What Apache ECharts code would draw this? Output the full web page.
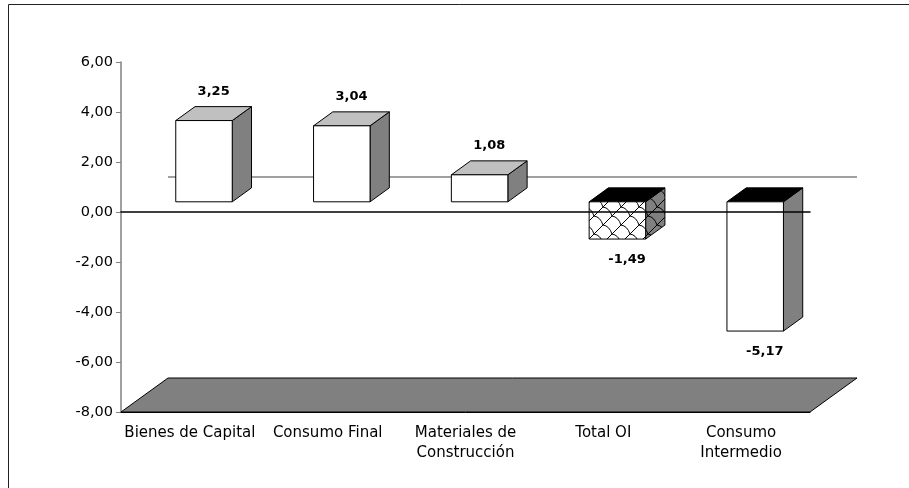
<!DOCTYPE html>
<html>
<head>
<meta charset="utf-8">
<script src="https://cdn.jsdelivr.net/npm/echarts@6/dist/echarts.min.js"></script>
<style>
  html, body { margin: 0; padding: 0; background: #fff; }
  #chart { width: 909px; height: 488px; }
</style>
</head>
<body>
<div id="chart"></div>
<script>
// datos
const categories = ["Bienes de Capital", "Consumo Final", "Materiales de\nConstrucción", "Total OI", "Consumo\nIntermedio"];
const values = [3.25, 3.04, 1.08, -1.49, -5.17];
const yTicks = { min: -8, max: 6, step: 2 };
const hatchedCategory = "Total OI";

const FONT = "DejaVu Sans";
// profundidad del efecto 3D (px)
const depthX = 47, depthY = -34;
const nearFrac = 0.3, farFrac = 0.71, barFrac = 0.41;

function fmt(v) {
  return v.toFixed(2).replace(".", ",");
}

// trama tipo "escamas" para la barra "Total OI"
function makeHatch(bg) {
  const s = 18;
  const c = document.createElement("canvas");
  c.width = s; c.height = s;
  const g = c.getContext("2d");
  g.fillStyle = bg;
  g.fillRect(0, 0, s, s);
  g.strokeStyle = "#000";
  g.lineWidth = 1;
  g.beginPath();
  g.moveTo(0, s); g.lineTo(s, 0);
  // arcos cortos entre diagonales
  g.moveTo(s / 2, s / 2); g.quadraticCurveTo(s * 0.85, s * 0.55, s, s);
  g.moveTo(-s / 2, s / 2); g.quadraticCurveTo(-s * 0.15, s * 0.55, 0, s);
  g.moveTo(0, 0); g.quadraticCurveTo(s * 0.35, s * 0.05, s / 2, s / 2);
  g.stroke();
  return { image: c, repeat: "repeat" };
}
const hatchFront = makeHatch("#ffffff");
const hatchSide = makeHatch("#808080");

function renderFloor(params, api) {
  const cs = params.coordSys;
  const bx = cs.x, by = cs.y + cs.height, ex = cs.x + cs.width;
  const zeroY = api.coord([0, 0])[1];
  return {
    type: "group",
    children: [
      {
        type: "polygon",
        shape: { points: [[bx, by], [ex, by], [ex + depthX, by + depthY], [bx + depthX, by + depthY]] },
        style: { fill: "#808080", stroke: "#000", lineWidth: 1 }
      },
      {
        type: "line",
        shape: { x1: bx + depthX, y1: zeroY + depthY - 1, x2: ex + depthX, y2: zeroY + depthY - 1 },
        style: { stroke: "#808080", lineWidth: 1.5 }
      }
    ]
  };
}

function renderBar(params, api) {
  const idx = api.value(0), val = api.value(1);
  const band = api.size([1, 0])[0];
  const c0 = api.coord([idx, 0]);
  const c1 = api.coord([idx, val]);
  const w = band * barFrac;
  const ox = depthX * nearFrac, oy = depthY * nearFrac;
  const dx = depthX * (farFrac - nearFrac), dy = depthY * (farFrac - nearFrac);
  const x0 = c0[0] - w / 2 + ox, x1 = x0 + w;
  const yT = Math.min(c0[1], c1[1]) + oy, yB = Math.max(c0[1], c1[1]) + oy;
  const neg = val < 0;
  const hatched = categories[idx] === hatchedCategory;
  const stroke = { stroke: "#000", lineWidth: 1 };
  const cx = (x0 + x1) / 2 + dx / 2;
  return {
    type: "group",
    children: [
      {
        type: "polygon",
        shape: { points: [[x1, yT], [x1 + dx, yT + dy], [x1 + dx, yB + dy], [x1, yB]] },
        style: Object.assign({ fill: hatched ? hatchSide : "#808080" }, stroke)
      },
      {
        type: "polygon",
        shape: { points: [[x0, yT], [x1, yT], [x1 + dx, yT + dy], [x0 + dx, yT + dy]] },
        style: Object.assign({ fill: neg ? "#000000" : "#c0c0c0" }, stroke)
      },
      {
        type: "rect",
        shape: { x: x0, y: yT, width: w, height: yB - yT },
        style: Object.assign({ fill: hatched ? hatchFront : "#ffffff" }, stroke)
      },
      {
        type: "text",
        style: {
          text: fmt(val),
          x: cx,
          y: neg ? yB + 21 : yT + dy - 15,
          align: "center",
          verticalAlign: "middle",
          font: "bold 13px '" + FONT + "'",
          fill: "#000"
        }
      }
    ]
  };
}

const chart = echarts.init(document.getElementById("chart"), null, { renderer: "canvas" });
chart.setOption({
  animation: false,
  backgroundColor: "#ffffff",
  grid: { left: 121, right: 99, top: 62, bottom: 76, containLabel: false },
  graphic: [{
    type: "rect",
    shape: { x: 8.5, y: 4.5, width: 920, height: 520 },
    style: { fill: "none", stroke: "#222", lineWidth: 1 },
    silent: true
  }],
  xAxis: [
    {
      type: "category",
      data: categories,
      position: "bottom",
      z: 3,
      axisLine: { onZero: false, lineStyle: { color: "#000", width: 1 } },
      axisTick: { length: 6, lineStyle: { color: "#000" } },
      axisLabel: { interval: 0, margin: 11, color: "#000", fontFamily: FONT, fontSize: 15, lineHeight: 20 },
      splitLine: { show: false }
    },
    {
      type: "category",
      data: categories,
      position: "top",
      z: 6,
      axisLine: { onZero: true, onZeroAxisIndex: 0, lineStyle: { color: "#000", width: 1.5 } },
      axisTick: { inside: true, length: 5, lineStyle: { color: "#000" } },
      axisLabel: { show: false },
      splitLine: { show: false }
    }
  ],
  yAxis: {
    type: "value",
    min: yTicks.min,
    max: yTicks.max,
    interval: yTicks.step,
    axisLine: { show: true, lineStyle: { color: "#808080", width: 1.5 } },
    axisTick: { show: true, length: 5, lineStyle: { color: "#808080" } },
    axisLabel: { formatter: fmt, color: "#000", fontFamily: FONT, fontSize: 14.5, margin: 8 },
    splitLine: { show: false }
  },
  series: [
    {
      type: "custom",
      name: "piso",
      z: 1,
      xAxisIndex: 0,
      yAxisIndex: 0,
      renderItem: renderFloor,
      data: [[0, 0]],
      silent: true
    },
    {
      type: "custom",
      name: "variación",
      z: 2,
      xAxisIndex: 0,
      yAxisIndex: 0,
      renderItem: renderBar,
      encode: { x: 0, y: 1 },
      data: categories.map((c, i) => [i, values[i]])
    }
  ]
});
</script>
</body>
</html>
